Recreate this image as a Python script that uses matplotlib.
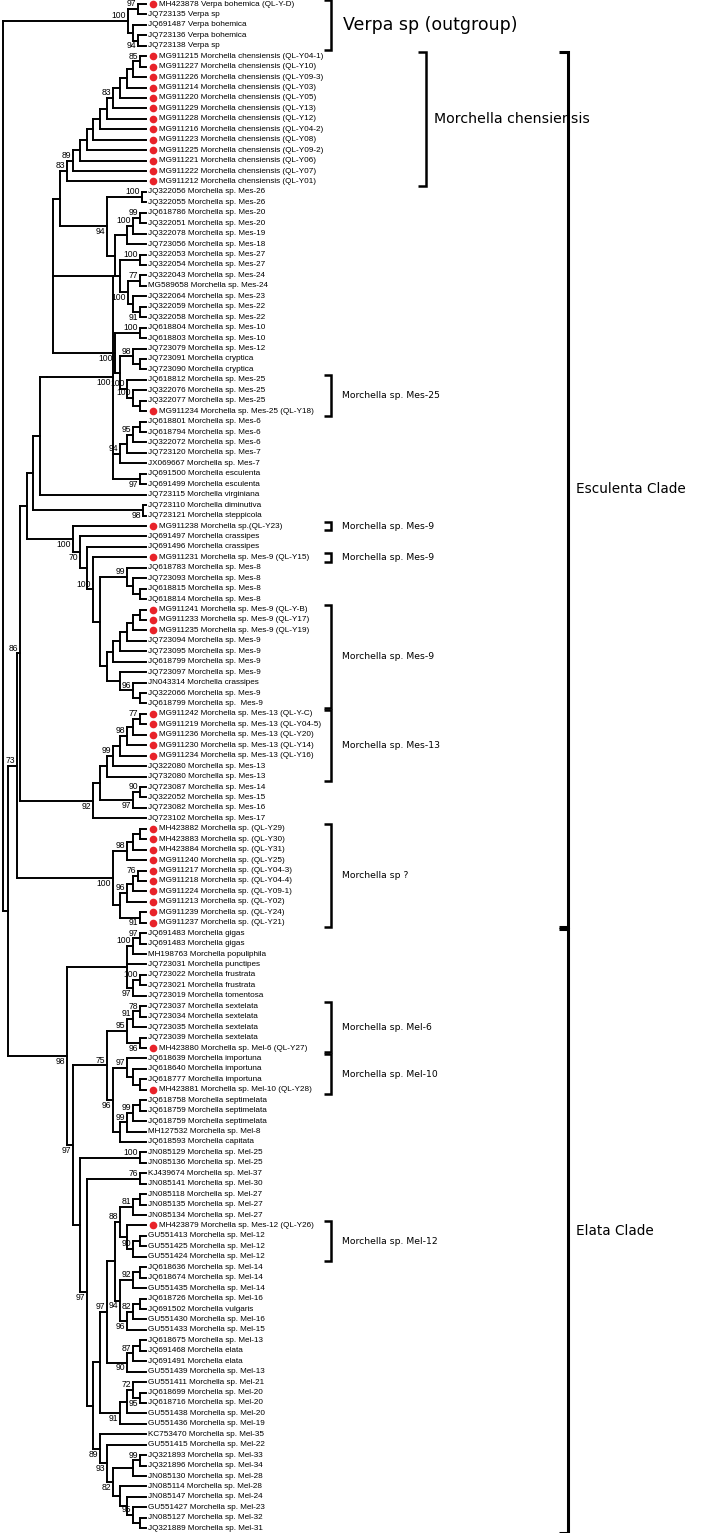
import re
import matplotlib
matplotlib.use("Agg")
import matplotlib.pyplot as plt
from matplotlib import font_manager
from matplotlib.collections import LineCollection

# ---- leaf labels (top to bottom) ----
LEAVES = [
    "MH423878 Verpa bohemica (QL-Y-D)", "JQ723135 Verpa sp", "JQ691487 Verpa bohemica",
    "JQ723136 Verpa bohemica", "JQ723138 Verpa sp",
    "MG911215 Morchella chensiensis (QL-Y04-1)", "MG911227 Morchella chensiensis (QL-Y10)",
    "MG911226 Morchella chensiensis (QL-Y09-3)", "MG911214 Morchella chensiensis (QL-Y03)",
    "MG911220 Morchella chensiensis (QL-Y05)", "MG911229 Morchella chensiensis (QL-Y13)",
    "MG911228 Morchella chensiensis (QL-Y12)", "MG911216 Morchella chensiensis (QL-Y04-2)",
    "MG911223 Morchella chensiensis (QL-Y08)", "MG911225 Morchella chensiensis (QL-Y09-2)",
    "MG911221 Morchella chensiensis (QL-Y06)", "MG911222 Morchella chensiensis (QL-Y07)",
    "MG911212 Morchella chensiensis (QL-Y01)",
    "JQ322056 Morchella sp. Mes-26", "JQ322055 Morchella sp. Mes-26", "JQ618786 Morchella sp. Mes-20",
    "JQ322051 Morchella sp. Mes-20", "JQ322078 Morchella sp. Mes-19", "JQ723056 Morchella sp. Mes-18",
    "JQ322053 Morchella sp. Mes-27", "JQ322054 Morchella sp. Mes-27", "JQ322043 Morchella sp. Mes-24",
    "MG589658 Morchella sp. Mes-24", "JQ322064 Morchella sp. Mes-23", "JQ322059 Morchella sp. Mes-22",
    "JQ322058 Morchella sp. Mes-22", "JQ618804 Morchella sp. Mes-10", "JQ618803 Morchella sp. Mes-10",
    "JQ723079 Morchella sp. Mes-12", "JQ723091 Morchella cryptica", "JQ723090 Morchella cryptica",
    "JQ618812 Morchella sp. Mes-25", "JQ322076 Morchella sp. Mes-25", "JQ322077 Morchella sp. Mes-25",
    "MG911234 Morchella sp. Mes-25 (QL-Y18)", "JQ618801 Morchella sp. Mes-6",
    "JQ618794 Morchella sp. Mes-6", "JQ322072 Morchella sp. Mes-6", "JQ723120 Morchella sp. Mes-7",
    "JX069667 Morchella sp. Mes-7", "JQ691500 Morchella esculenta", "JQ691499 Morchella esculenta",
    "JQ723115 Morchella virginiana", "JQ723110 Morchella diminutiva", "JQ723121 Morchella steppicola",
    "MG911238 Morchella sp.(QL-Y23)", "JQ691497 Morchella crassipes", "JQ691496 Morchella crassipes",
    "MG911231 Morchella sp. Mes-9 (QL-Y15)", "JQ618783 Morchella sp. Mes-8",
    "JQ723093 Morchella sp. Mes-8", "JQ618815 Morchella sp. Mes-8", "JQ618814 Morchella sp. Mes-8",
    "MG911241 Morchella sp. Mes-9 (QL-Y-B)", "MG911233 Morchella sp. Mes-9 (QL-Y17)",
    "MG911235 Morchella sp. Mes-9 (QL-Y19)", "JQ723094 Morchella sp. Mes-9",
    "JQ723095 Morchella sp. Mes-9", "JQ618799 Morchella sp. Mes-9", "JQ723097 Morchella sp. Mes-9",
    "JN043314 Morchella crassipes", "JQ322066 Morchella sp. Mes-9", "JQ618799 Morchella sp.  Mes-9",
    "MG911242 Morchella sp. Mes-13 (QL-Y-C)", "MG911219 Morchella sp. Mes-13 (QL-Y04-5)",
    "MG911236 Morchella sp. Mes-13 (QL-Y20)", "MG911230 Morchella sp. Mes-13 (QL-Y14)",
    "MG911234 Morchella sp. Mes-13 (QL-Y16)", "JQ322080 Morchella sp. Mes-13",
    "JQ732080 Morchella sp. Mes-13", "JQ723087 Morchella sp. Mes-14", "JQ322052 Morchella sp. Mes-15",
    "JQ723082 Morchella sp. Mes-16", "JQ723102 Morchella sp. Mes-17",
    "MH423882 Morchella sp. (QL-Y29)", "MH423883 Morchella sp. (QL-Y30)",
    "MH423884 Morchella sp. (QL-Y31)", "MG911240 Morchella sp. (QL-Y25)",
    "MG911217 Morchella sp. (QL-Y04-3)", "MG911218 Morchella sp. (QL-Y04-4)",
    "MG911224 Morchella sp. (QL-Y09-1)", "MG911213 Morchella sp. (QL-Y02)",
    "MG911239 Morchella sp. (QL-Y24)", "MG911237 Morchella sp. (QL-Y21)",
    "JQ691483 Morchella gigas", "JQ691483 Morchella gigas", "MH198763 Morchella populiphila",
    "JQ723031 Morchella punctipes", "JQ723022 Morchella frustrata", "JQ723021 Morchella frustrata",
    "JQ723019 Morchella tomentosa", "JQ723037 Morchella sextelata", "JQ723034 Morchella sextelata",
    "JQ723035 Morchella sextelata", "JQ723039 Morchella sextelata",
    "MH423880 Morchella sp. Mel-6 (QL-Y27)", "JQ618639 Morchella importuna",
    "JQ618640 Morchella importuna", "JQ618777 Morchella importuna",
    "MH423881 Morchella sp. Mel-10 (QL-Y28)", "JQ618758 Morchella septimelata",
    "JQ618759 Morchella septimelata", "JQ618759 Morchella septimelata",
    "MH127532 Morchella sp. Mel-8", "JQ618593 Morchella capitata",
    "JN085129 Morchella sp. Mel-25", "JN085136 Morchella sp. Mel-25", "KJ439674 Morchella sp. Mel-37",
    "JN085141 Morchella sp. Mel-30", "JN085118 Morchella sp. Mel-27", "JN085135 Morchella sp. Mel-27",
    "JN085134 Morchella sp. Mel-27", "MH423879 Morchella sp. Mes-12 (QL-Y26)",
    "GU551413 Morchella sp. Mel-12", "GU551425 Morchella sp. Mel-12", "GU551424 Morchella sp. Mel-12",
    "JQ618636 Morchella sp. Mel-14", "JQ618674 Morchella sp. Mel-14", "GU551435 Morchella sp. Mel-14",
    "JQ618726 Morchella sp. Mel-16", "JQ691502 Morchella vulgaris", "GU551430 Morchella sp. Mel-16",
    "GU551433 Morchella sp. Mel-15", "JQ618675 Morchella sp. Mel-13", "JQ691468 Morchella elata",
    "JQ691491 Morchella elata", "GU551439 Morchella sp. Mel-13", "GU551411 Morchella sp. Mel-21",
    "JQ618699 Morchella sp. Mel-20", "JQ618716 Morchella sp. Mel-20", "GU551438 Morchella sp. Mel-20",
    "GU551436 Morchella sp. Mel-19", "KC753470 Morchella sp. Mel-35", "GU551415 Morchella sp. Mel-22",
    "JQ321893 Morchella sp. Mel-33", "JQ321896 Morchella sp. Mel-34", "JN085130 Morchella sp. Mel-28",
    "JN085114 Morchella sp. Mel-28", "JN085147 Morchella sp. Mel-24", "GU551427 Morchella sp. Mel-23",
    "JN085127 Morchella sp. Mel-32", "JQ321889 Morchella sp. Mel-31",
]

# samples from this study (red dot), 1-based leaf numbers
RED = [1] + list(range(6, 19)) + [40, 51, 54, 59, 60, 61] + list(range(69, 74)) \
      + list(range(80, 90)) + [101, 105, 118]

# ---- tree (leaf numbers; "(kids)support:depth", v = support under branch) ----
VERPA = "((1,2)97:138,(3,(4,5)94v:138):133)100:128"
CHENS = "((((((((((((6,7)85:140,8):133,9):127,10):120,11)83:113,12):107,13):100,14):93,15):87,16):80,17)89:73,18)83:67"
MES26 = "((19,20)100:142,((((21,22)99:140,23)100:133,24):127,((25,26)100:140,((27,28)77:140,(29,(30,31)91v:140):133)100v:128):120):115)94v:107"
MES10 = "((32,33)100:140,((34,(35,36):140)98:133,(37,(38,(39,40):140)100:133)100:127):120)100v:115"
MES6 = "((((41,42):140,43)95:133,44):127,45)94:120,(46,47)97v:140)100v:113"
DIMIN = "(49,50)98v:143"
CRASS = ("(51,(52,(53,(54,((55,(56,(57,58):140):133)99:127,((((((59,60):140,61):133,62):127,63):120,64):113,"
         "(65,(66,(67,68):140)96:133):120):107):100)100:93):87)70v:80)100v:73")
MES13 = "((((((((69,70)77:140,71):133,72)98:127,73):120,74)99:113,75):107,((76,77)90:140,78)97v:133):100,79)92v:93"
SPQ = "((((80,81):140,82):133,83)98:127,((((84,85)76:138,86):133,87)96:127,(88,89)91v:140):120)100v:113"
GIGAS = "(((90,91)97:140,92)100:133,93,((94,95)100:140,96)97v:133):127"
SEXT = "(((97,98)78:140,99)91:133,(100,101)96v:140)95:127"
IMPO = "(102,(103,(104,105):140):133)97:127"
SEPT = "((((106,107):140,108)99:133,109)99:127,110):120"
MEL25 = "(111,112)100:140"
MEL37 = "(113,114)76:140"
MEL27 = "(((115,116):140,117)81:133,(118,((119,120):140,121)90:133):127)88:120"
MEL14 = "(((122,123):140,124)92:133,(((125,126):140,127)82:133,128)96v:127)94v:120"
MEL13 = "(((129,130):140,131)87:133,132)90v:127"
MEL20 = "(((133,(134,135)95v:140)72:133,136):127,137)91v:120"
MEL28 = "(138,(139,(((140,141)99:140,142):133,(143,(144,(145,(146,147):140)95:133):127):120)82v:113)93v:107)89v:100"

ELATA = (f"({GIGAS},(({SEXT},({IMPO},{SEPT})96v:113)75:107,({MEL25},({MEL37},"
         f"(((({MEL27},{MEL14}):115,{MEL13})97:107,{MEL20}):100,{MEL28}):93)97v:87):80)97v:73)98v:67")
ESCUL = (f"((((((((({CHENS},{MES26}):60,{MES10}):53,{MES6}):47,48):40,{DIMIN}):33,{CRASS}):27,"
         f"{MES13})86:20,{SPQ})73:17")
TREE = f"({VERPA},({ESCUL},{ELATA}):8):3"

# bracket groups: (label, first leaf, last leaf)
GROUPS = [("Verpa sp (outgroup)", 1, 5), ("Morchella sp. Mes-25", 37, 40),
          ("Morchella sp. Mes-9", 51, 51), ("Morchella sp. Mes-9", 54, 54),
          ("Morchella sp. Mes-9", 59, 68), ("Morchella sp. Mes-13", 69, 75),
          ("Morchella sp ?", 80, 89), ("Morchella sp. Mel-6", 97, 101),
          ("Morchella sp. Mel-10", 102, 105), ("Morchella sp. Mel-12", 118, 121)]
SPECIES = [("Morchella chensiensis", 6, 18)]
CLADES = [("Esculenta Clade", 6, 89), ("Elata Clade", 90, 147)]


def parse(s):
    s = re.sub(r"\s", "", s)
    pos = 0

    def node():
        nonlocal pos
        if s[pos] == "(":
            pos += 1
            kids = [node()]
            while s[pos] == ",":
                pos += 1
                kids.append(node())
            pos += 1
            m = re.match(r"(\d*)(v?):([\d.]+)", s[pos:])
            pos += m.end()
            return {"kids": kids, "sup": m.group(1), "below": m.group(2) == "v", "x": float(m.group(3))}
        m = re.match(r"\d+", s[pos:])
        pos += m.end()
        return {"leaf": int(m.group())}
    return node()


TIP = 146


def layout(n):
    if "leaf" in n:
        n["y"] = n["leaf"] - 1
        n["x"] = TIP
    else:
        for k in n["kids"]:
            layout(k)
        n["y"] = (n["kids"][0]["y"] + n["kids"][-1]["y"]) / 2


root = parse(TREE)
layout(root)

fonts = {f.name for f in font_manager.fontManager.ttflist}
if "Liberation Sans Narrow" in fonts:
    LF, LSIZE = "Liberation Sans Narrow", 7.0
else:
    LF, LSIZE = "Liberation Sans", 5.9

fig = plt.figure(figsize=(7.07, 15.33), dpi=100)
ax = fig.add_axes([0, 0, 1, 1])
ax.set_xlim(0, 707)
ax.set_ylim((1533 - 4) / 10.44, -4 / 10.44)
ax.axis("off")

segs = []


def draw(n):
    if "leaf" in n:
        return
    ys = [k["y"] for k in n["kids"]]
    segs.append([(n["x"], min(ys)), (n["x"], max(ys))])
    for k in n["kids"]:
        segs.append([(n["x"], k["y"]), (k["x"], k["y"])])
        draw(k)
    if n["sup"]:
        if n["below"]:
            ax.annotate(n["sup"], (n["x"], n["y"]), xytext=(-1.2, -0.6), textcoords="offset points",
                        ha="right", va="top", fontsize=6.2, family=LF)
        else:
            ax.annotate(n["sup"], (n["x"], n["y"]), xytext=(-1.2, 0.6), textcoords="offset points",
                        ha="right", va="bottom", fontsize=6.2, family=LF)


draw(root)
ax.add_collection(LineCollection(segs, colors="black", linewidths=1.4, capstyle="projecting"))

for i, name in enumerate(LEAVES, start=1):
    y = i - 1
    if i in RED:
        ax.plot(153, y, "o", color="#e8232a", ms=5.5, mec="none")
        ax.text(159, y, name, fontsize=LSIZE, family=LF, va="center")
    else:
        ax.text(148.5, y, name, fontsize=LSIZE, family=LF, va="center")


def bracket(label, a, b, x, tick, lw, size, dx):
    y0, y1 = a - 1 - 0.42, b - 1 + 0.42
    ax.plot([x - tick, x, x, x - tick], [y0, y0, y1, y1], color="black", lw=lw,
            solid_joinstyle="miter", solid_capstyle="butt")
    ax.text(x + dx, (y0 + y1) / 2, label, fontsize=size, family="DejaVu Sans", va="center")


for lab, a, b in GROUPS:
    big = lab.startswith("Verpa")
    bracket(lab, a, b, 331, 7, 1.8, 12.5 if big else 6.65, 12 if big else 11)
for lab, a, b in SPECIES:
    bracket(lab, a, b, 426, 8, 1.8, 10.2, 8)
for lab, a, b in CLADES:
    bracket(lab, a, b, 568, 9, 2.2, 9.8, 8)

fig.savefig("out.png", dpi=100)
